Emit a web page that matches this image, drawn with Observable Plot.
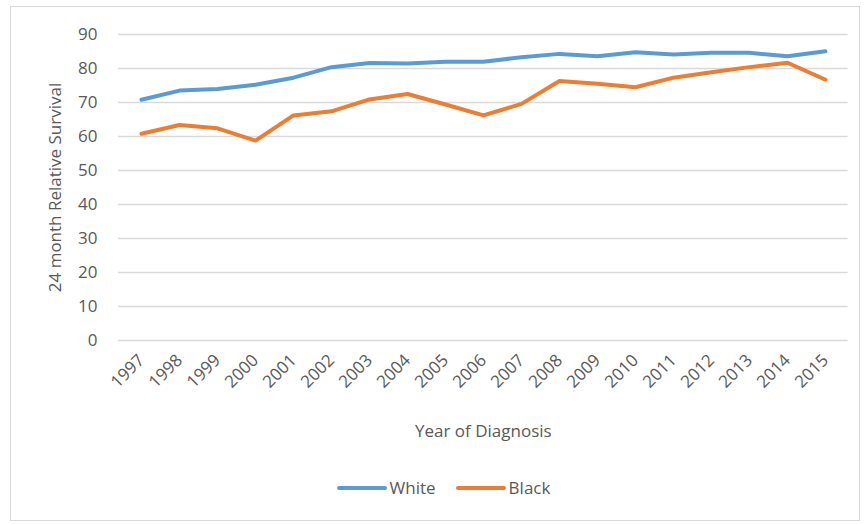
<!DOCTYPE html>
<html>
<head>
<meta charset="utf-8">
<script src="https://cdn.jsdelivr.net/npm/d3@7"></script>
<script src="https://cdn.jsdelivr.net/npm/@observablehq/plot@0.6"></script>
<style>
  html, body { margin: 0; padding: 0; background: #fff; }
  body { width: 867px; height: 525px; position: relative; overflow: hidden; font-family: "Open Sans", sans-serif; }
  #frame { position: absolute; left: 10px; top: 6px; width: 850px; height: 515px; border: 1px solid #d9d9d9; box-sizing: border-box; }
  #chart { position: absolute; left: 0; top: 0; }
  #legend { position: absolute; left: 0; top: 476px; width: 867px; display: flex; justify-content: center; gap: 20px; font-size: 17px; color: #595959; padding-left: 20px; box-sizing: border-box; }
  .item { display: flex; align-items: center; }
  .sw { width: 50px; height: 4px; border-radius: 2px; margin-right: 3px; }
</style>
</head>
<body>
<div id="frame"></div>
<div id="chart"></div>
<div id="legend"></div>
<script>
const years = ["1997","1998","1999","2000","2001","2002","2003","2004","2005","2006","2007","2008","2009","2010","2011","2012","2013","2014","2015"];
const white = [70.8, 73.5, 74.0, 75.2, 77.3, 80.4, 81.6, 81.5, 82.0, 82.0, 83.3, 84.3, 83.6, 84.8, 84.1, 84.6, 84.6, 83.6, 85.1];
const black = [60.8, 63.4, 62.4, 58.8, 66.2, 67.4, 70.9, 72.5, 69.4, 66.2, 69.6, 76.3, 75.5, 74.5, 77.3, 78.9, 80.4, 81.7, 76.7];
const series = ["White", "Black"];
const colors = ["#5b9bd5", "#ed7d31"];
const yTicks = [0, 10, 20, 30, 40, 50, 60, 70, 80, 90];

const data = [];
years.forEach((yr, i) => {
  data.push({year: yr, value: white[i], race: series[0]});
  data.push({year: yr, value: black[i], race: series[1]});
});

const chart = Plot.plot({
  width: 867,
  height: 460,
  marginLeft: 118,
  marginRight: 19.4,
  marginTop: 34,
  marginBottom: 120,
  style: {fontFamily: "Open Sans, sans-serif", fontSize: "17px", color: "#595959", background: "transparent"},
  x: {type: "point", domain: years, padding: 0.5},
  y: {domain: [0, 90]},
  color: {domain: series, range: colors},
  marks: [
    Plot.ruleY(yTicks, {stroke: "#d9d9d9", strokeWidth: 1.3}),
    Plot.axisY({ticks: yTicks, tickSize: 0, tickPadding: 21, label: "24 month Relative Survival", labelArrow: false, labelAnchor: "center", labelOffset: 70, fontSize: 17}),
    Plot.axisX({tickSize: 0, tickPadding: 17, tickRotate: -45, label: "Year of Diagnosis", labelArrow: false, labelAnchor: "center", labelOffset: 96, fontSize: 17}),
    Plot.line(data, {x: "year", y: "value", z: "race", stroke: {value: "race", scale: "color"}, strokeWidth: 4, strokeLinejoin: "round", strokeLinecap: "round"})
  ]
});
document.getElementById("chart").appendChild(chart);

const legend = document.getElementById("legend");
series.forEach((s, i) => {
  const it = document.createElement("div");
  it.className = "item";
  it.innerHTML = `<span class="sw" style="background:${colors[i]}"></span><span>${s}</span>`;
  legend.appendChild(it);
});
</script>
</body>
</html>
